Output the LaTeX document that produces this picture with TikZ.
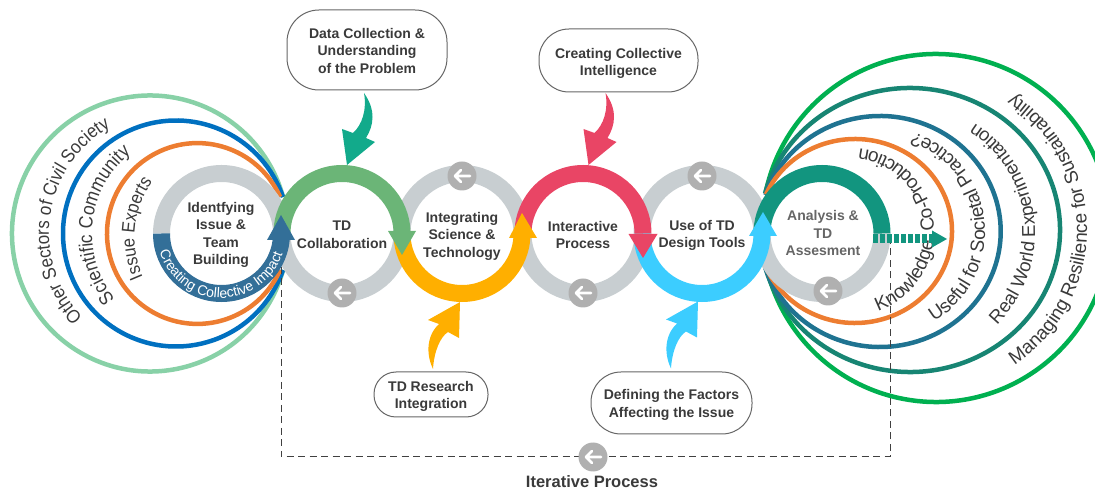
\documentclass[tikz,border=0pt]{standalone}
\usepackage{fontspec}
\setmainfont{Liberation Sans}
\newfontfamily\narrowface[FakeStretch=0.9]{Liberation Sans}
\usetikzlibrary{decorations.text}

\definecolor{labelink}{HTML}{3A3A3A}
\definecolor{ringgray}{HTML}{C8CED1}
\definecolor{badgegray}{HTML}{B0B0B0}
\definecolor{impactblue}{HTML}{336F98}
\definecolor{collabgreen}{HTML}{6BB577}
\definecolor{scienceyellow}{HTML}{FFAF00}
\definecolor{processred}{HTML}{E94565}
\definecolor{toolcyan}{HTML}{3CCDFF}
\definecolor{assessteal}{HTML}{12957F}
\definecolor{droptgreen}{HTML}{12AA8B}
\definecolor{civicgreen}{HTML}{88D1A7}
\definecolor{sciblue}{HTML}{0070C0}
\definecolor{expertorange}{HTML}{ED7D31}
\definecolor{usefulblue}{HTML}{1F7391}
\definecolor{worldteal}{HTML}{178573}
\definecolor{resilgreen}{HTML}{00B050}

\newcommand{\arcfont}[1]{\fontsize{#1}{20}\selectfont\color{labelink}}
\newcommand{\narrowarcfont}[1]{\narrowface\fontsize{#1}{20}\selectfont\color{labelink}}

\tikzset{
    ringband/.style={line width=17pt},
    bigarc/.style={line width=4.5pt},
    ringlabel/.style={font=\bfseries\fontsize{14}{17.5}\selectfont, align=center, text=labelink},
    callout/.style={draw=black!60, line width=1pt, fill=white, rounded corners=#1, inner sep=0pt,
        font=\bfseries\fontsize{14}{17.5}\selectfont, align=center, text=labelink},
    arcword/.style={decorate, decoration={text along path, text align=center, text={#1}}},
    dropcurve/.pic={
        \path[pic actions] (17,72) .. controls (20,55) and (15,40) .. (6,32) -- (-5,36) -- (0,0)
            -- (28,23) -- (19,27) .. controls (27,40) and (29,55) .. (17,72) -- cycle;
    },
    risecurve/.pic={
        \path[pic actions] (-27,-67) .. controls (-33,-55) and (-35,-35) .. (-21,-22) -- (-32,-18) -- (0,0)
            -- (-1,-36) -- (-12,-30) .. controls (-20,-35) and (-26,-50) .. (-27,-67) -- cycle;
    },
    backbadge/.pic={
        \fill[badgegray] (0,0) circle (14.5);
        \draw[white, line width=2.6pt, line cap=round, line join=round] (8,0) -- (-7,0) (-1,6) -- (-7,0) -- (-1,-6);
    }
}

\begin{document}
\begin{tikzpicture}[x=1pt, y=1pt]
    \clip (0,0) rectangle (1095,490);
    \useasboundingbox (0,0) rectangle (1095,490);

    % Circles on the left
    \draw[bigarc, civicgreen] ([shift={(150,256.5)}]15.3:138) arc[start angle=15.3, end angle=344.7, radius=138];
    \draw[bigarc, sciblue] ([shift={(176,256.5)}]18.8:113) arc[start angle=18.8, end angle=341.2, radius=113];
    \draw[bigarc, expertorange] ([shift={(197.4,256.5)}]23.8:90.4) arc[start angle=23.8, end angle=336.2, radius=90.4];

    % Circles on the right
    \draw[bigarc, resilgreen] ([shift={(936,262)}]167.9:174) arc[start angle=167.9, end angle=-167.9, radius=174];
    \draw[bigarc, worldteal] ([shift={(910,260)}]165.1:150 and 142) arc[start angle=165.1, end angle=-165.1, x radius=150, y radius=142];
    \draw[bigarc, usefulblue] ([shift={(880,258.5)}]161.6:120.7 and 115.5) arc[start angle=161.6, end angle=-161.6, x radius=120.7, y radius=115.5];
    \draw[bigarc, expertorange] ([shift={(855,259)}]156.6:97 and 92) arc[start angle=156.6, end angle=-156.6, x radius=97, y radius=92];

    % Words along the circles
    \path[arcword={|\narrowarcfont{18.9}|Other Sectors of Civil Society}] ([shift={(171,257)}]223.3:122) arc[start angle=223.3, end angle=120, radius=122];
    \path[arcword={|\narrowarcfont{19.4}|Scientific Community}] ([shift={(195,256)}]217.5:103) arc[start angle=217.5, end angle=130, radius=103];
    \path[arcword={|\narrowarcfont{18.5}|Issue Experts}] ([shift={(231,252.5)}]203.5:96.5) arc[start angle=203.5, end angle=145, radius=96.5];
    \path[arcword={|\arcfont{19}|Managing Resilience for Sustainability}] ([shift={(925,260)}]-56.3:162) arc[start angle=-56.3, end angle=57, radius=162];
    \path[arcword={|\arcfont{18.7}|Real World Experimentation}] ([shift={(905,257)}]-45:130) arc[start angle=-45, end angle=57.6, radius=130];
    \path[arcword={|\arcfont{19}|Useful for Societal Practice?}] ([shift={(880,258.3)}]-60:105) arc[start angle=-60, end angle=72, radius=105];
    \path[arcword={|\arcfont{19}|Knowledge\ \ Co-Production}] ([shift={(850,258)}]-72:84) arc[start angle=-72, end angle=85, radius=84];

    % Gray halves of the rings
    \draw[ringband, ringgray] ([shift={(221.5,256.5)}]180:60) arc[start angle=180, end angle=0, radius=60];
    \draw[ringband, ringgray] ([shift={(342,256.5)}]180:60) arc[start angle=180, end angle=360, radius=60];
    \draw[ringband, ringgray] ([shift={(462,256.5)}]180:60) arc[start angle=180, end angle=0, radius=60];
    \draw[ringband, ringgray] ([shift={(583,256.5)}]180:60) arc[start angle=180, end angle=360, radius=60];
    \draw[ringband, ringgray] ([shift={(702,256.5)}]180:60) arc[start angle=180, end angle=0, radius=60];
    \draw[ringband, ringgray] ([shift={(822,256.5)}]180:60) arc[start angle=180, end angle=360, radius=60];

    % Coloured halves with their heads
    \draw[ringband, assessteal] ([shift={(822,256.5)}]180:60) arc[start angle=180, end angle=0, radius=60];
    \draw[ringband, toolcyan] ([shift={(702,256.5)}]180:60) arc[start angle=180, end angle=360, radius=60];
    \fill[toolcyan] (749,254) -- (777,254) -- (763,278) -- cycle;
    \draw[ringband, processred] ([shift={(583,256.5)}]180:60) arc[start angle=180, end angle=0, radius=60];
    \fill[processred] (628.5,256) -- (657.5,256) -- (643,232) -- cycle;
    \draw[ringband, scienceyellow] ([shift={(462,256.5)}]180:60) arc[start angle=180, end angle=360, radius=60];
    \fill[scienceyellow] (509,252) -- (537,252) -- (522,277) -- cycle;
    \draw[ringband, collabgreen] ([shift={(342,256.5)}]180:60) arc[start angle=180, end angle=0, radius=60];
    \fill[collabgreen] (388,259) -- (416,259) -- (402,235) -- cycle;
    \draw[ringband, impactblue] ([shift={(221.5,256.5)}]180:60) arc[start angle=180, end angle=360, radius=60];
    \fill[impactblue] (267,250) -- (295,250) -- (281,275) -- cycle;

    % Text on the blue half
    \path[arcword={|\fontsize{14}{16}\selectfont\color{white}|Creating Collective Impact}] ([shift={(221.5,256.5)}]193:64.5) arc[start angle=193, end angle=345, radius=64.5];

    % Ring labels
    \node[ringlabel] (issue) at (221,255) {Identfying\\Issue \&\\Team\\Building};
    \node[ringlabel] (collab) at (342,255) {TD\\Collaboration};
    \node[ringlabel] (science) at (462,254) {Integrating\\Science \&\\Technology};
    \node[ringlabel] (interactive) at (583,255) {Interactive\\Process};
    \node[ringlabel] (tools) at (702,254.5) {Use of TD\\Design Tools};
    \node[ringlabel, text=black!60] (analysis) at (823,257) {Analysis \&\\TD\\Assesment};

    % Badges on the gray halves
    \pic at (342,197) {backbadge};
    \pic at (462,314) {backbadge};
    \pic at (583,197) {backbadge};
    \pic at (702,314) {backbadge};
    \pic at (828,199) {backbadge};

    % Callouts and their curved arrows
    \node[callout=32pt, minimum width=160pt, minimum height=80pt] (data) at (367,440) {\rule{0pt}{12pt}Data Collection \&\\Understanding\\of the Problem};
    \node[callout=30pt, minimum width=159pt, minimum height=63pt] (intelligence) at (618.5,429.5) {\rule{0pt}{16pt}Creating Collective\\Intelligence};
    \node[callout=22pt, minimum width=114pt, minimum height=45pt] (research) at (431,95.5) {\rule{0pt}{14pt}TD Research\\Integration};
    \node[callout=30pt, minimum width=161pt, minimum height=62pt] (factors) at (671.5,87) {\rule{0pt}{14pt}Defining the Factors\\Affecting the Issue};
    \pic[fill=droptgreen] at (347,325) {dropcurve};
    \pic[fill=processred] at (588.5,325) {dropcurve};
    \pic[fill=scienceyellow] at (460,188) {risecurve};
    \pic[fill=toolcyan] at (698,188.5) {risecurve};

    % Dotted arrow out of the last ring
    \coordinate (outstart) at (873,251);
    \coordinate (outend) at (933,251);
    \draw[assessteal, line width=9pt, dash pattern=on 4.5pt off 2.5pt] (outstart) -- (outend);
    \fill[assessteal] (932,259.5) -- (947,251) -- (932,242.5) -- cycle;

    % Iterative loop
    \coordinate (loopstart) at (281,223);
    \coordinate (loopleft) at (281,33);
    \coordinate (loopright) at (890,33);
    \coordinate (loopend) at (890,247);
    \draw[black!75, line width=1pt, dash pattern=on 7pt off 4.5pt] (loopstart) -- (loopleft) -- (loopright) -- (loopend);
    \pic at (593,33) {backbadge};
    \node[font=\bfseries\fontsize{16.5}{20}\selectfont, text=labelink] (iterative) at (592,8) {Iterative Process};
\end{tikzpicture}
\end{document}
